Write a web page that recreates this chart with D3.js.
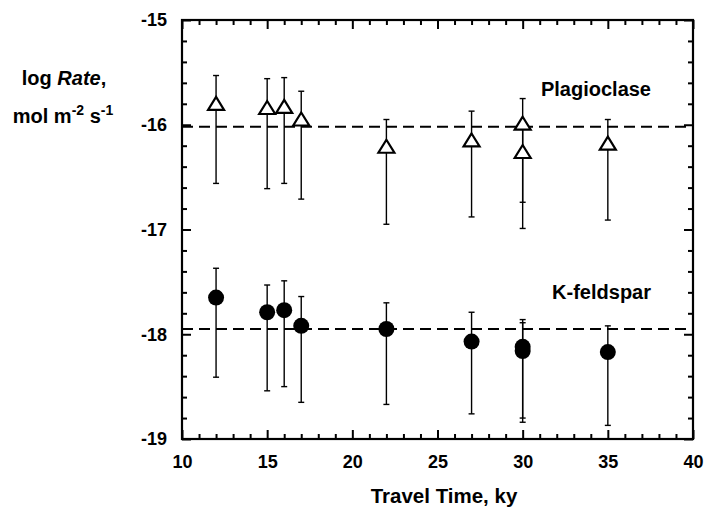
<!DOCTYPE html>
<html>
<head>
<meta charset="utf-8">
<script src="https://cdn.jsdelivr.net/npm/d3@7"></script>
<style>
  html, body { margin: 0; padding: 0; background: #fff; }
  svg text { font-family: "Liberation Sans", Arial, Helvetica, sans-serif; fill: #000; font-weight: bold; }
</style>
</head>
<body>
<svg id="chart" width="704" height="511"></svg>
<script>
// Travel time (ky) and log dissolution rate (mol m^-2 s^-1)
const plagTime = [12, 15, 16, 17, 22, 27, 30, 30, 35];
const plagRate = [-15.80, -15.84, -15.83, -15.95, -16.21, -16.15, -15.99, -16.26, -16.18];
const plagHigh = [-15.53, -15.56, -15.55, -15.68, -15.95, -15.87, -15.75, -16.02, -15.95];
const plagLow  = [-16.56, -16.61, -16.56, -16.71, -16.95, -16.88, -16.74, -16.99, -16.91];

const kfTime = [12, 15, 16, 17, 22, 27, 30, 30, 35];
const kfRate = [-17.65, -17.79, -17.77, -17.92, -17.95, -18.07, -18.12, -18.16, -18.17];
const kfHigh = [-17.37, -17.53, -17.49, -17.64, -17.70, -17.79, -17.86, -17.89, -17.92];
const kfLow  = [-18.41, -18.54, -18.50, -18.65, -18.67, -18.76, -18.80, -18.84, -18.87];

// Mean rates shown as dashed lines
const meanRates = [-16.02, -17.95];

const xTicks = [10, 15, 20, 25, 30, 35, 40];
const yTicks = [-15, -16, -17, -18, -19];

const svg = d3.select("#chart");
const mL = 182, mR = 693, mT = 20, mB = 439;

const x = d3.scaleLinear().domain([10, 40]).range([mL, mR]);
const y = d3.scaleLinear().domain([-19, -15]).range([mB, mT]);

// plain hyphen for negative numbers
const fmt = d => String(d);

// Axes with inward ticks (major + minor), mirrored on all four sides
const xMinor = d3.range(10, 40.01, 1).filter(v => v % 5 !== 0);
const yMinor = d3.range(-19, -14.99, 0.2).map(v => +v.toFixed(1)).filter(v => Math.abs(v - Math.round(v)) > 1e-6);

function styleAxis(g) {
  g.select(".domain").remove();
  g.selectAll("line").attr("stroke", "#000").attr("stroke-width", 2);
}

// bottom
svg.append("g").attr("transform", `translate(0,${mB})`)
  .call(d3.axisBottom(x).tickValues(xTicks).tickSize(-9).tickFormat(fmt).tickPadding(16))
  .call(styleAxis)
  .call(g => g.selectAll("text").attr("font-size", 18));
svg.append("g").attr("transform", `translate(0,${mB})`)
  .call(d3.axisBottom(x).tickValues(xMinor).tickSize(-5).tickFormat(""))
  .call(styleAxis);
// top
svg.append("g").attr("transform", `translate(0,${mT})`)
  .call(d3.axisTop(x).tickValues(xTicks).tickSize(-9).tickFormat(""))
  .call(styleAxis);
svg.append("g").attr("transform", `translate(0,${mT})`)
  .call(d3.axisTop(x).tickValues(xMinor).tickSize(-5).tickFormat(""))
  .call(styleAxis);
// left
svg.append("g").attr("transform", `translate(${mL},0)`)
  .call(d3.axisLeft(y).tickValues(yTicks).tickSize(-9).tickFormat(fmt).tickPadding(15))
  .call(styleAxis)
  .call(g => g.selectAll("text").attr("font-size", 18));
svg.append("g").attr("transform", `translate(${mL},0)`)
  .call(d3.axisLeft(y).tickValues(yMinor).tickSize(-5).tickFormat(""))
  .call(styleAxis);
// right
svg.append("g").attr("transform", `translate(${mR},0)`)
  .call(d3.axisRight(y).tickValues(yTicks).tickSize(-9).tickFormat(""))
  .call(styleAxis);
svg.append("g").attr("transform", `translate(${mR},0)`)
  .call(d3.axisRight(y).tickValues(yMinor).tickSize(-5).tickFormat(""))
  .call(styleAxis);

// frame
svg.append("rect")
  .attr("x", mL).attr("y", mT)
  .attr("width", mR - mL).attr("height", mB - mT)
  .attr("fill", "none").attr("stroke", "#000").attr("stroke-width", 2.2);

// dashed mean lines
svg.selectAll(".mean").data(meanRates).join("line")
  .attr("x1", mL).attr("x2", mR)
  .attr("y1", d => y(d)).attr("y2", d => y(d))
  .attr("stroke", "#000").attr("stroke-width", 2)
  .attr("stroke-dasharray", "11,6");

// error bars
function errorBars(times, hi, lo) {
  const g = svg.append("g").attr("stroke", "#000").attr("stroke-width", 1.4);
  const idx = d3.range(times.length);
  g.selectAll(".v").data(idx).join("line")
    .attr("x1", i => x(times[i])).attr("x2", i => x(times[i]))
    .attr("y1", i => y(hi[i])).attr("y2", i => y(lo[i]));
  g.selectAll(".t").data(idx).join("line")
    .attr("x1", i => x(times[i]) - 3).attr("x2", i => x(times[i]) + 3)
    .attr("y1", i => y(hi[i])).attr("y2", i => y(hi[i]));
  g.selectAll(".b").data(idx).join("line")
    .attr("x1", i => x(times[i]) - 3).attr("x2", i => x(times[i]) + 3)
    .attr("y1", i => y(lo[i])).attr("y2", i => y(lo[i]));
}
errorBars(plagTime, plagHigh, plagLow);
errorBars(kfTime, kfHigh, kfLow);

// Plagioclase: open triangles
svg.append("g").selectAll("path").data(d3.range(plagTime.length)).join("path")
  .attr("transform", i => `translate(${x(plagTime[i])},${y(plagRate[i])})`)
  .attr("d", "M0,-7L8,6L-8,6Z")
  .attr("fill", "#fff").attr("stroke", "#000").attr("stroke-width", 2.2)
  .attr("stroke-linejoin", "miter");

// K-feldspar: filled circles
svg.append("g").selectAll("circle").data(d3.range(kfTime.length)).join("circle")
  .attr("cx", i => x(kfTime[i])).attr("cy", i => y(kfRate[i]))
  .attr("r", 8).attr("fill", "#000");

// series labels
svg.append("text").attr("x", 651).attr("y", 96).attr("text-anchor", "end")
  .attr("font-size", 20).text("Plagioclase");
svg.append("text").attr("x", 651).attr("y", 299).attr("text-anchor", "end")
  .attr("font-size", 20).text("K-feldspar");

// axis titles
svg.append("text").attr("x", 444).attr("y", 503).attr("text-anchor", "middle")
  .attr("font-size", 20.5).text("Travel Time, ky");

const l1 = svg.append("text").attr("x", 64).attr("y", 85).attr("text-anchor", "middle").attr("font-size", 20);
l1.append("tspan").text("log ");
l1.append("tspan").attr("font-style", "italic").text("Rate");
l1.append("tspan").text(",");
const l2 = svg.append("text").attr("x", 63).attr("y", 123).attr("text-anchor", "middle").attr("font-size", 20);
l2.append("tspan").text("mol m");
l2.append("tspan").attr("font-size", 14).attr("dy", -8).text("-2");
l2.append("tspan").attr("dy", 8).text(" s");
l2.append("tspan").attr("font-size", 14).attr("dy", -8).text("-1");
</script>
</body>
</html>
